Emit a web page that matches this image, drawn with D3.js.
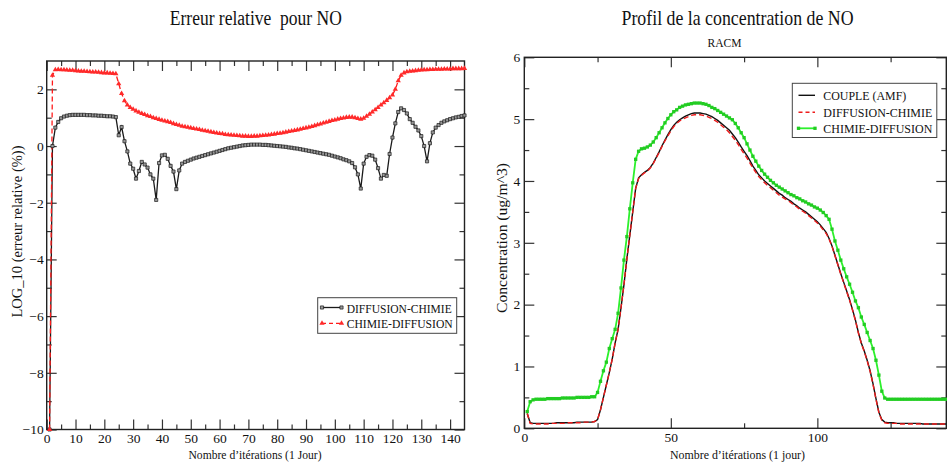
<!DOCTYPE html>
<html><head><meta charset="utf-8">
<script src="https://cdn.jsdelivr.net/npm/d3@7"></script>
<style>
body{margin:0;background:#fff;}
svg{display:block;}
text{font-family:"Liberation Serif","Times New Roman",serif;fill:#111;}
</style>
</head><body><svg id="c" width="947" height="462"></svg>
<script>
// ---------------- DATA ----------------
// Left panel: relative error (log10) per iteration 1..145
const iterLeft = d3.range(1, 146);
const errDiffChimie = [
 -10, 0.0, 0.65, 0.85, 0.98, 1.04, 1.07, 1.09, 1.10, 1.10,
 1.10, 1.10, 1.10, 1.09, 1.09, 1.08, 1.08, 1.07, 1.07, 1.06,
 1.05, 1.05, 1.04, 1.02, 0.38, 0.67, 0.17, -0.19, -0.62, -0.8,
 -1.15, -0.88, -0.56, -0.65, -0.76, -1.0, -1.15, -1.9, -0.6, -0.33,
 -0.31, -0.45, -0.7, -0.9, -1.52, -0.86, -0.62, -0.56, -0.52, -0.48,
 -0.44, -0.41, -0.38, -0.35, -0.32, -0.29, -0.26, -0.23, -0.2, -0.17,
 -0.14, -0.11, -0.08, -0.06, -0.04, -0.02, 0.0, 0.02, 0.03, 0.04,
 0.05, 0.05, 0.05, 0.05, 0.04, 0.04, 0.03, 0.02, 0.01, 0.0,
 -0.01, -0.02, -0.03, -0.05, -0.06, -0.08, -0.09, -0.11, -0.13, -0.15,
 -0.17, -0.19, -0.21, -0.23, -0.25, -0.27, -0.29, -0.31, -0.34, -0.37,
 -0.4, -0.43, -0.47, -0.5, -0.54, -0.6, -0.75, -1.0, -1.5, -0.62,
 -0.38, -0.32, -0.34, -0.48, -0.78, -1.15, -1.02, -1.05, -0.28, 0.3,
 0.8, 1.2, 1.33, 1.27, 1.15, 0.95, 0.82, 0.68, 0.55, 0.35,
 0.0, -0.54, 0.1, 0.48, 0.65, 0.74, 0.82, 0.87, 0.91, 0.95,
 0.98, 1.01, 1.03, 1.06, 1.08
];
const errChimieDiff = [
 -10, 2.5, 2.69, 2.70, 2.69, 2.69, 2.68, 2.67, 2.67, 2.66,
 2.65, 2.64, 2.64, 2.63, 2.62, 2.61, 2.61, 2.60, 2.59, 2.58,
 2.58, 2.57, 2.56, 2.55, 2.2, 1.85, 1.6, 1.45, 1.36, 1.3,
 1.24, 1.19, 1.15, 1.11, 1.07, 1.04, 1.0, 0.97, 0.94, 0.91,
 0.88, 0.86, 0.83, 0.79, 0.76, 0.73, 0.7, 0.68, 0.66, 0.64,
 0.62, 0.6, 0.58, 0.56, 0.54, 0.52, 0.5, 0.48, 0.46, 0.44,
 0.43, 0.41, 0.4, 0.39, 0.38, 0.37, 0.36, 0.35, 0.35, 0.34,
 0.34, 0.35, 0.35, 0.36, 0.37, 0.38, 0.39, 0.41, 0.42, 0.44,
 0.45, 0.47, 0.49, 0.51, 0.53, 0.55, 0.57, 0.59, 0.62, 0.64,
 0.66, 0.69, 0.72, 0.75, 0.78, 0.81, 0.84, 0.87, 0.9, 0.92,
 0.95, 0.97, 0.99, 1.01, 1.02, 1.02, 1.0, 0.97, 0.95, 0.98,
 1.05, 1.12, 1.2, 1.28, 1.36, 1.45, 1.53, 1.61, 1.7, 1.8,
 2.0, 2.3, 2.5, 2.58, 2.62, 2.64, 2.65, 2.66, 2.67, 2.68,
 2.69, 2.69, 2.70, 2.70, 2.71, 2.71, 2.71, 2.72, 2.72, 2.72,
 2.73, 2.73, 2.73, 2.73, 2.74
];
const xTicksLeft = [0,10,20,30,40,50,60,70,80,90,100,110,120,130,140];
const xMinorLeft = [5,15,25,35,45,55,65,75,85,95,105,115,125,135];
const yTicksLeft = [-10,-8,-6,-4,-2,0,2];
const yMinorLeft = [-9,-7,-5,-3,-1,1];

// Right panel: NO concentration per iteration 1..144
const iterRight = d3.range(1, 145);
const concCouple = [
 0.24, 0.09, 0.08, 0.08, 0.08, 0.08, 0.08, 0.08, 0.08, 0.08,
 0.09, 0.09, 0.09, 0.09, 0.09, 0.09, 0.09, 0.10, 0.10, 0.10,
 0.10, 0.10, 0.10, 0.11, 0.14, 0.30, 0.50, 0.70, 0.90, 1.12,
 1.38, 1.60, 1.95, 2.32, 2.74, 3.12, 3.50, 3.88, 4.05, 4.10,
 4.14, 4.17, 4.22, 4.29, 4.38, 4.47, 4.57, 4.66, 4.75, 4.83,
 4.90, 4.95, 4.99, 5.02, 5.05, 5.07, 5.09, 5.10, 5.10, 5.10,
 5.09, 5.08, 5.06, 5.04, 5.01, 4.98, 4.94, 4.90, 4.86, 4.82,
 4.76, 4.70, 4.63, 4.55, 4.48, 4.41, 4.33, 4.24, 4.17, 4.10,
 4.05, 4.00, 3.96, 3.92, 3.88, 3.84, 3.80, 3.77, 3.73, 3.70,
 3.67, 3.63, 3.60, 3.56, 3.53, 3.50, 3.46, 3.42, 3.38, 3.34,
 3.29, 3.23, 3.17, 3.07, 2.95, 2.80, 2.65, 2.50, 2.36, 2.22,
 2.08, 1.92, 1.75, 1.55, 1.38, 1.25, 1.10, 0.93, 0.72, 0.48,
 0.26, 0.14, 0.10, 0.09, 0.09, 0.09, 0.08, 0.08, 0.08, 0.08,
 0.08, 0.08, 0.08, 0.08, 0.08, 0.07, 0.07, 0.07, 0.07, 0.07,
 0.07, 0.07, 0.07, 0.07
];
const concDiffChimie = [
 0.24, 0.08, 0.07, 0.07, 0.07, 0.07, 0.07, 0.07, 0.08, 0.08,
 0.08, 0.08, 0.08, 0.08, 0.09, 0.09, 0.09, 0.09, 0.09, 0.10,
 0.10, 0.10, 0.10, 0.11, 0.14, 0.30, 0.50, 0.70, 0.90, 1.12,
 1.38, 1.60, 1.95, 2.32, 2.74, 3.12, 3.50, 3.88, 4.04, 4.09,
 4.13, 4.16, 4.21, 4.28, 4.37, 4.46, 4.56, 4.65, 4.73, 4.81,
 4.88, 4.93, 4.97, 5.00, 5.02, 5.04, 5.06, 5.07, 5.07, 5.07,
 5.06, 5.05, 5.03, 5.01, 4.98, 4.95, 4.91, 4.87, 4.83, 4.78,
 4.72, 4.66, 4.59, 4.51, 4.44, 4.37, 4.29, 4.21, 4.14, 4.07,
 4.02, 3.97, 3.93, 3.89, 3.85, 3.81, 3.77, 3.74, 3.71, 3.68,
 3.65, 3.61, 3.58, 3.54, 3.51, 3.48, 3.44, 3.40, 3.36, 3.32,
 3.27, 3.21, 3.15, 3.06, 2.94, 2.79, 2.64, 2.49, 2.35, 2.21,
 2.07, 1.91, 1.74, 1.54, 1.37, 1.24, 1.09, 0.92, 0.71, 0.47,
 0.25, 0.13, 0.09, 0.08, 0.08, 0.08, 0.08, 0.07, 0.07, 0.07,
 0.07, 0.07, 0.07, 0.07, 0.07, 0.07, 0.07, 0.07, 0.07, 0.07,
 0.07, 0.07, 0.07, 0.07
];
const concChimieDiff = [
 0.27, 0.43, 0.46, 0.47, 0.47, 0.47, 0.47, 0.48, 0.48, 0.48,
 0.48, 0.48, 0.49, 0.49, 0.49, 0.49, 0.49, 0.50, 0.50, 0.50,
 0.50, 0.50, 0.51, 0.51, 0.58, 0.76, 0.93, 1.07, 1.29, 1.45,
 1.60, 1.86, 2.27, 2.72, 3.10, 3.55, 3.97, 4.35, 4.48, 4.52,
 4.53, 4.55, 4.58, 4.63, 4.70, 4.78, 4.86, 4.94, 5.01, 5.07,
 5.12, 5.15, 5.19, 5.21, 5.23, 5.24, 5.25, 5.26, 5.26, 5.26,
 5.25, 5.24, 5.22, 5.19, 5.17, 5.14, 5.11, 5.08, 5.05, 5.02,
 4.99, 4.93, 4.86, 4.78, 4.70, 4.60, 4.50, 4.40, 4.32, 4.24,
 4.17, 4.11, 4.06, 4.01, 3.97, 3.93, 3.90, 3.87, 3.84, 3.81,
 3.78, 3.76, 3.73, 3.71, 3.68, 3.66, 3.63, 3.61, 3.58, 3.56,
 3.53, 3.49, 3.44, 3.38, 3.22, 3.03, 2.88, 2.72, 2.58, 2.45,
 2.33, 2.20, 2.06, 1.95, 1.80, 1.68, 1.55, 1.42, 1.29, 1.10,
 0.86, 0.60, 0.49, 0.47, 0.47, 0.47, 0.47, 0.47, 0.47, 0.47,
 0.47, 0.47, 0.47, 0.47, 0.47, 0.47, 0.47, 0.47, 0.47, 0.47,
 0.47, 0.47, 0.47, 0.47
];
const xTicksRight = [0,50,100];
const xMinorRight = [25,75,125];
const yTicksRight = [0,1,2,3,4,5,6];
const yMinorRight = [0.5,1.5,2.5,3.5,4.5,5.5];

// ---------------- DRAW ----------------
const svg = d3.select("#c");
const FONT = '"Liberation Serif","Times New Roman",serif';

function frameAxes(x, y, xt, xm, yt, ym, padX, padY) {
  const [x0, x1] = x.range(), [y0, y1] = y.range();
  const g = svg.append("g");
  const style = sel => {
    sel.select(".domain").remove();
    sel.selectAll("line").attr("stroke", "#333").attr("stroke-width", 1.2);
    sel.selectAll("text").attr("font-family", FONT).attr("font-size", 13.5).attr("fill", "#111");
  };
  g.append("g").attr("transform", `translate(0,${y0})`)
    .call(d3.axisBottom(x).tickValues(xt).tickSize(-10).tickPadding(padX).tickFormat(d3.format("d"))).call(style);
  g.append("g").attr("transform", `translate(0,${y0})`)
    .call(d3.axisBottom(x).tickValues(xm).tickSize(-5).tickFormat("")).call(style);
  g.append("g").attr("transform", `translate(0,${y1})`)
    .call(d3.axisTop(x).tickValues(xt).tickSize(-10).tickFormat("")).call(style);
  g.append("g").attr("transform", `translate(0,${y1})`)
    .call(d3.axisTop(x).tickValues(xm).tickSize(-5).tickFormat("")).call(style);
  g.append("g").attr("transform", `translate(${x0},0)`)
    .call(d3.axisLeft(y).tickValues(yt).tickSize(-10).tickPadding(padY).tickFormat(d3.format("d"))).call(style);
  g.append("g").attr("transform", `translate(${x0},0)`)
    .call(d3.axisLeft(y).tickValues(ym).tickSize(-5).tickFormat("")).call(style);
  g.append("g").attr("transform", `translate(${x1},0)`)
    .call(d3.axisRight(y).tickValues(yt).tickSize(-10).tickFormat("")).call(style);
  g.append("g").attr("transform", `translate(${x1},0)`)
    .call(d3.axisRight(y).tickValues(ym).tickSize(-5).tickFormat("")).call(style);
  svg.append("rect").attr("x", x0).attr("y", y1).attr("width", x1 - x0).attr("height", y0 - y1)
    .attr("fill", "none").attr("stroke", "#222").attr("stroke-width", 1.4);
}

function label(txt, x, y, size, len, rot) {
  const t = svg.append("text").text(txt)
    .attr("font-size", size).attr("text-anchor", "middle")
    .style("white-space", "pre");
  if (len) t.attr("textLength", len).attr("lengthAdjust", "spacingAndGlyphs");
  if (rot) t.attr("transform", `translate(${x},${y}) rotate(-90)`);
  else t.attr("x", x).attr("y", y);
  return t;
}

// ===== Left panel =====
const xL = d3.scaleLinear().domain([0, 145]).range([46.7, 464.5]);
const yL = d3.scaleLinear().domain([-10, 3]).range([429.5, 61]);
frameAxes(xL, yL, xTicksLeft, xMinorLeft, yTicksLeft, yMinorLeft, 4, 3);

const lineL = vals => d3.line().x((d, i) => xL(iterLeft[i])).y(d => yL(d))(vals);
const gL = svg.append("g");
gL.append("path").attr("d", lineL(errDiffChimie)).attr("fill", "none")
  .attr("stroke", "#1a1a1a").attr("stroke-width", 1.3);
gL.append("path").attr("d", lineL(errChimieDiff)).attr("fill", "none")
  .attr("stroke", "#ff1a1a").attr("stroke-width", 1.3).attr("stroke-dasharray", "5,3");
const sq = d3.symbol().type(d3.symbolSquare).size(10);
const tri = d3.symbol().type(d3.symbolTriangle).size(12);
gL.selectAll(".mb").data(errDiffChimie).join("path")
  .attr("transform", (d, i) => `translate(${xL(iterLeft[i])},${yL(d)})`)
  .attr("d", sq).attr("fill", "#9a9a9a").attr("stroke", "#1a1a1a").attr("stroke-width", 0.7);
gL.selectAll(".mr").data(errChimieDiff).join("path")
  .attr("transform", (d, i) => `translate(${xL(iterLeft[i])},${yL(d)})`)
  .attr("d", tri).attr("fill", "#ff2a2a");

label("Erreur relative  pour NO", 255.8, 25, 20, 172);
label("Nombre d’itérations (1 Jour)", 255, 458.5, 13.5, 133);
label("LOG_10 (erreur relative (%))", 22, 231.5, 14, 172, true);

// left legend
const lgL = svg.append("g");
lgL.append("rect").attr("x", 317.7).attr("y", 297.7).attr("width", 139).attr("height", 35.6)
  .attr("fill", "#fff").attr("stroke", "#444").attr("stroke-width", 1);
lgL.append("line").attr("x1", 322).attr("x2", 341.5).attr("y1", 307.5).attr("y2", 307.5)
  .attr("stroke", "#1a1a1a").attr("stroke-width", 1.3);
[322, 341.5].forEach(px => lgL.append("path").attr("transform", `translate(${px},307.5)`)
  .attr("d", sq).attr("fill", "#9a9a9a").attr("stroke", "#1a1a1a").attr("stroke-width", 0.7));
lgL.append("line").attr("x1", 322).attr("x2", 341.5).attr("y1", 323.3).attr("y2", 323.3)
  .attr("stroke", "#ff1a1a").attr("stroke-width", 1.3).attr("stroke-dasharray", "4,3");
[322, 341.5].forEach(px => lgL.append("path").attr("transform", `translate(${px},323.3)`)
  .attr("d", tri).attr("fill", "#ff2a2a"));
lgL.append("text").text("DIFFUSION-CHIMIE").attr("x", 346.7).attr("y", 312.7).attr("font-size", 13.5)
  .attr("textLength", 105).attr("lengthAdjust", "spacingAndGlyphs");
lgL.append("text").text("CHIMIE-DIFFUSION").attr("x", 346.7).attr("y", 328.3).attr("font-size", 13.5)
  .attr("textLength", 106).attr("lengthAdjust", "spacingAndGlyphs");

// ===== Right panel =====
const xR = d3.scaleLinear().domain([0, 144]).range([524.3, 946.3]);
const yR = d3.scaleLinear().domain([0, 6]).range([428.3, 57.3]);
frameAxes(xR, yR, xTicksRight, xMinorRight, yTicksRight, yMinorRight, 4, 4);

const lineR = vals => d3.line().x((d, i) => xR(iterRight[i])).y(d => yR(d))(vals);
const gR = svg.append("g");
gR.append("path").attr("d", lineR(concCouple)).attr("fill", "none")
  .attr("stroke", "#111").attr("stroke-width", 1.4);
gR.append("path").attr("d", lineR(concDiffChimie)).attr("fill", "none")
  .attr("stroke", "#ee1c1c").attr("stroke-width", 1.4).attr("stroke-dasharray", "5,3");
gR.append("path").attr("d", lineR(concChimieDiff)).attr("fill", "none")
  .attr("stroke", "#2cf02c").attr("stroke-width", 1.8);
const sqG = d3.symbol().type(d3.symbolSquare).size(11);
gR.selectAll(".mg").data(concChimieDiff).join("path")
  .attr("transform", (d, i) => `translate(${xR(iterRight[i])},${yR(d)})`)
  .attr("d", sqG).attr("fill", "#22cc22");

label("Profil de la concentration de NO", 737.5, 25, 21, 232);
label("RACM", 724.5, 47, 13, 34);
label("Nombre d’itérations (1 jour)", 737.5, 458.5, 13.5, 135);
label("Concentration (ug/m^3)", 507, 238, 14, 150, true);

// right legend
const lgR = svg.append("g");
lgR.append("rect").attr("x", 792.3).attr("y", 83.3).attr("width", 144.5).attr("height", 54.2)
  .attr("fill", "#fff").attr("stroke", "#444").attr("stroke-width", 1);
lgR.append("line").attr("x1", 798.5).attr("x2", 815).attr("y1", 95.3).attr("y2", 95.3)
  .attr("stroke", "#111").attr("stroke-width", 1.4);
lgR.append("line").attr("x1", 798.5).attr("x2", 815).attr("y1", 112.3).attr("y2", 112.3)
  .attr("stroke", "#ee1c1c").attr("stroke-width", 1.4).attr("stroke-dasharray", "4,3");
lgR.append("line").attr("x1", 798.5).attr("x2", 815).attr("y1", 128.3).attr("y2", 128.3)
  .attr("stroke", "#2cf02c").attr("stroke-width", 1.8);
[798.5, 815].forEach(px => lgR.append("path").attr("transform", `translate(${px},128.3)`)
  .attr("d", sqG).attr("fill", "#22cc22"));
[["COUPLE (AMF)", 99.5, 83], ["DIFFUSION-CHIMIE", 116.5, 109], ["CHIMIE-DIFFUSION", 132.5, 109]]
  .forEach(([t, yy, len]) => lgR.append("text").text(t).attr("x", 823.3).attr("y", yy)
    .attr("font-size", 13.5).attr("textLength", len).attr("lengthAdjust", "spacingAndGlyphs"));
</script>
</body></html>
